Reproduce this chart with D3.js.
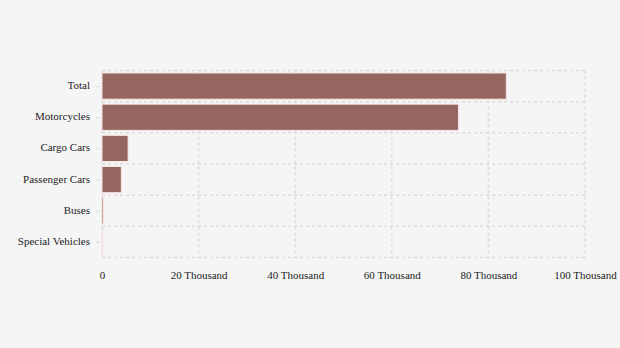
<!DOCTYPE html>
<html>
<head>
<meta charset="utf-8">
<script src="https://cdn.jsdelivr.net/npm/d3@7"></script>
<style>
  html, body { margin: 0; padding: 0; background: #f5f5f5; }
  svg { display: block; }
  text { font-family: "Liberation Serif", "DejaVu Serif", serif; }
</style>
</head>
<body>
<svg id="chart" width="620" height="348"></svg>
<script>
// Registered vehicles by type
const categories = ["Total", "Motorcycles", "Cargo Cars", "Passenger Cars", "Buses", "Special Vehicles"];
const values = [83700, 73800, 5400, 4000, 300, 200];
const xTicks = [0, 20000, 40000, 60000, 80000, 100000];
const xTickLabels = ["0", "20 Thousand", "40 Thousand", "60 Thousand", "80 Thousand", "100 Thousand"];

const W = 620, H = 348;
const margin = { top: 70.5, right: 35, bottom: 90.5, left: 102 };
const innerW = W - margin.left - margin.right;
const innerH = H - margin.top - margin.bottom;

const svg = d3.select("#chart");
svg.append("rect").attr("width", W).attr("height", H).attr("fill", "#f5f5f5");

const g = svg.append("g").attr("transform", `translate(${margin.left},${margin.top})`);

const x = d3.scaleLinear().domain([0, 100000]).range([0, innerW]);
const y = d3.scaleBand().domain(categories).range([0, innerH]).paddingInner(0.16).paddingOuter(0.08);

const gridStyle = sel => sel
  .attr("stroke", "#dcdcdc")
  .attr("stroke-width", 1.5)
  .attr("stroke-dasharray", "3,3")
  .attr("fill", "none");

// vertical grid lines at each x tick
g.append("g").selectAll("line").data(xTicks).join("line")
  .attr("x1", d => x(d)).attr("x2", d => x(d))
  .attr("y1", 0).attr("y2", innerH)
  .call(gridStyle);

// horizontal grid lines at band boundaries
const step = innerH / categories.length;
const bounds = d3.range(categories.length + 1).map(i => i * step);
g.append("g").selectAll("line").data(bounds).join("line")
  .attr("x1", 0).attr("x2", innerW)
  .attr("y1", d => d).attr("y2", d => d)
  .call(gridStyle);

// bars
const bandY = d => (categories.indexOf(d) * step) + (step - y.bandwidth()) / 2;
g.append("g").selectAll("rect").data(categories).join("rect")
  .attr("x", 0)
  .attr("y", (d) => bandY(d))
  .attr("width", (d, i) => x(values[i]))
  .attr("height", y.bandwidth())
  .attr("fill", "#956560")
  .attr("stroke", "#f6e6e3")
  .attr("stroke-width", 1);

// y axis
const yAxis = g.append("g")
  .call(d3.axisLeft(d3.scalePoint().domain(categories).range([step / 2, innerH - step / 2])).tickSize(4).tickPadding(8));
yAxis.select(".domain").remove();
yAxis.selectAll(".tick line").attr("stroke", "#dcdcdc").attr("transform", "translate(-2,0)");
yAxis.selectAll(".tick text")
  .attr("fill", "#222")
  .attr("dy", "0.22em")
  .style("font-size", "11px")
  .style("font-family", "'Liberation Serif', serif");

// x axis
const xAxis = g.append("g")
  .attr("transform", `translate(0,${innerH})`)
  .call(d3.axisBottom(x).tickValues(xTicks).tickFormat((d, i) => xTickLabels[i]).tickSize(0).tickPadding(14));
xAxis.select(".domain").remove();
xAxis.selectAll(".tick text")
  .attr("fill", "#222")
  .style("font-size", "11px")
  .style("font-family", "'Liberation Serif', serif");
</script>
</body>
</html>
